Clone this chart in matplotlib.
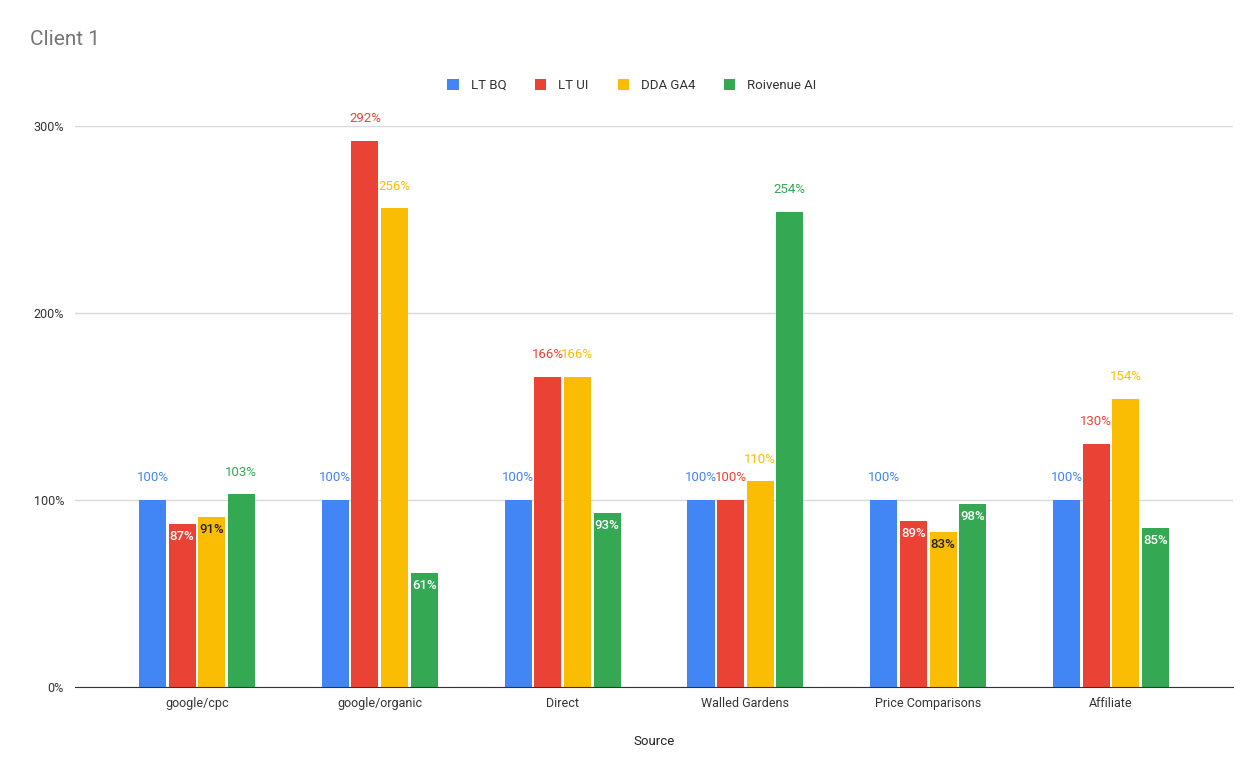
import numpy as np
import matplotlib.pyplot as plt
from matplotlib.ticker import FuncFormatter

plt.rcParams['font.family'] = ['Roboto', 'DejaVu Sans']

# --- date ---
sources = ["google/cpc", "google/organic", "Direct", "Walled Gardens",
           "Price Comparisons", "Affiliate"]
lt_bq = [100, 100, 100, 100, 100, 100]
lt_ui = [87, 292, 166, 100, 89, 130]
dda_ga4 = [91, 256, 166, 110, 83, 154]
roivenue_ai = [103, 61, 93, 254, 98, 85]

series = [("LT BQ", lt_bq, "#4285F4", "white"),
          ("LT UI", lt_ui, "#EA4335", "white"),
          ("DDA GA4", dda_ga4, "#FBBC04", "#222222"),
          ("Roivenue AI", roivenue_ai, "#34A853", "white")]

fig = plt.figure(figsize=(12.54, 7.62), dpi=100)
ax = fig.add_axes([0.0598, 0.0984, 0.9235, 0.7362])

x = np.arange(len(sources))
step = 0.162
width = 0.148
for k, (name, vals, col, incol) in enumerate(series):
    pos = x + (k - 1.5) * step
    ax.bar(pos, vals, width=width, color=col, label=name, zorder=3)
    for p, v in zip(pos, vals):
        if v >= 100:
            ax.annotate(f"{v}%", (p, v), xytext=(0, 16), textcoords="offset points",
                        ha="center", va="center", fontsize=9.5, color=col, clip_on=False)
        else:
            ax.annotate(f"{v}%", (p, v), xytext=(0, -9), textcoords="offset points",
                        ha="center", va="center", fontsize=9.5, color=incol,
                        fontweight="medium")

ax.set_xlim(-0.667, 5.667)
ax.set_ylim(0, 300)
ax.set_yticks([0, 100, 200, 300])
ax.yaxis.set_major_formatter(FuncFormatter(lambda v, _: f"{v:.0f}%"))
ax.set_xticks(x)
ax.set_xticklabels(sources)
ax.tick_params(axis="both", length=0, labelsize=9, colors="#333333")
ax.tick_params(axis="x", pad=7)
ax.tick_params(axis="y", pad=8)
ax.grid(axis="y", color="#d9d9d9", linewidth=1, zorder=0)
for s in ["top", "right", "left"]:
    ax.spines[s].set_visible(False)
ax.spines["bottom"].set_color("#333333")
ax.spines["bottom"].set_zorder(4)
ax.set_xlabel("Source", fontsize=9.5, color="#222222", labelpad=18)

fig.text(0.024, 0.948, "Client 1", fontsize=15, color="#757575", va="center")
fig.legend(loc="center", bbox_to_anchor=(0.504, 0.888), ncol=4, frameon=False,
           fontsize=9.5, handlelength=0.85, handleheight=0.85, columnspacing=2.2,
           handletextpad=0.9, labelcolor="#333333")

fig.savefig("out.png", dpi=100, facecolor="white")
